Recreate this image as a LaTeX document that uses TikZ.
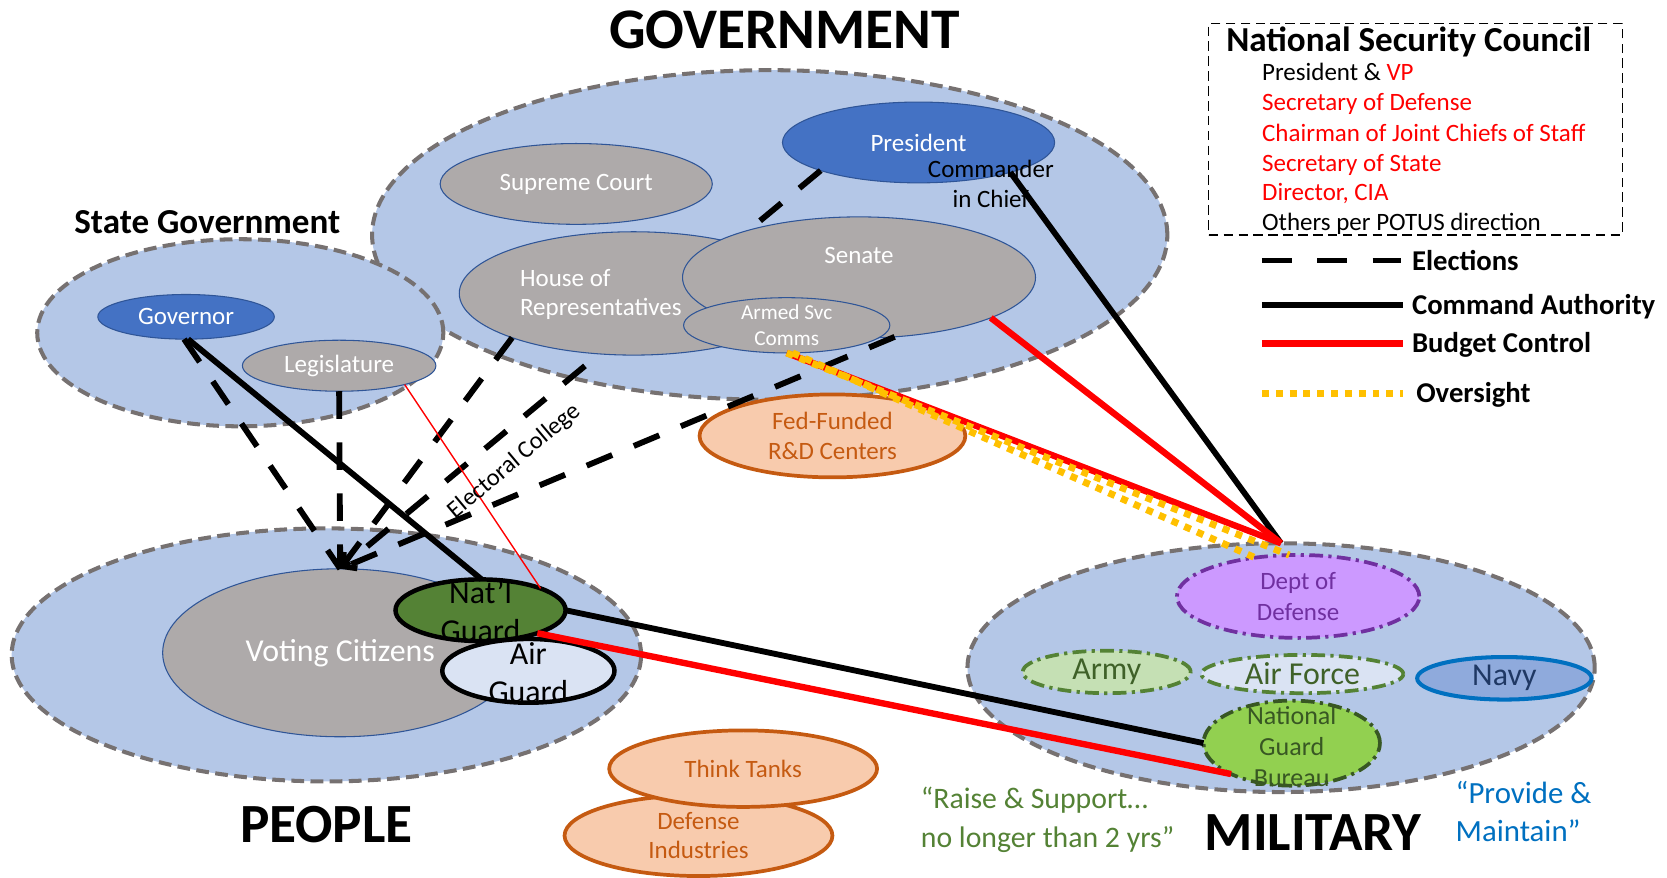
\documentclass[tikz,border=0pt]{standalone}
\usepackage{fontspec}
\setmainfont{Carlito}
\usetikzlibrary{shapes.geometric,arrows.meta}
\definecolor{regfill}{HTML}{B4C7E7}
\definecolor{regline}{HTML}{767171}
\definecolor{grayfill}{HTML}{AEAAAA}
\definecolor{edgeblue}{HTML}{2F5597}
\definecolor{presblue}{HTML}{4472C4}
\definecolor{peach}{HTML}{F8CBAD}
\definecolor{rust}{HTML}{C55A11}
\definecolor{lavender}{HTML}{CC99FF}
\definecolor{purp}{HTML}{7030A0}
\definecolor{mint}{HTML}{C5E0B4}
\definecolor{leaf}{HTML}{548235}
\definecolor{pale}{HTML}{DAE3F3}
\definecolor{navyfill}{HTML}{8FAADC}
\definecolor{navyedge}{HTML}{0070C0}
\definecolor{navytext}{HTML}{1F3864}
\definecolor{lime}{HTML}{92D050}
\definecolor{forest}{HTML}{385723}
\definecolor{amber}{HTML}{FFC000}
\definecolor{redline}{HTML}{FF0000}
\begin{document}
\begin{tikzpicture}[x=1pt,y=-1pt,
  ell/.style={ellipse,inner sep=0pt,outer sep=0pt},
  region/.style={ell,fill=regfill,draw=regline,line width=3.8pt,dash pattern=on 12pt off 6pt},
  branch/.style={ell,fill=grayfill,draw=edgeblue,line width=1pt},
  chief/.style={ell,fill=presblue,draw=edgeblue,line width=1pt},
  partner/.style={ell,fill=peach,draw=rust,line width=3.5pt},
  guard/.style={ell,draw=black,line width=4.2pt},
  service/.style={ell,line width=3.5pt,dash pattern=on 13pt off 5pt on 3pt off 5pt},
  wlab/.style={text=white,align=center,inner sep=0pt},
  olab/.style={text=rust,align=center,inner sep=0pt},
  f22/.style={font=\fontsize{23.5pt}{29pt}\selectfont},
  bigtitle/.style={font=\fontsize{54pt}{60pt}\selectfont\bfseries,inner sep=0pt,anchor=base},
  leglab/.style={font=\fontsize{27pt}{30pt}\selectfont\bfseries,inner sep=0pt,anchor=base west},
  nscitem/.style={font=\fontsize{23.5pt}{26pt}\selectfont,inner sep=0pt,anchor=base west},
  election/.style={line width=5.5pt,dash pattern=on 26pt off 22pt},
  command/.style={line width=5.5pt},
  budget/.style={line width=6pt,draw=redline},
  oversight/.style={line width=6.5pt,draw=amber,dash pattern=on 6.5pt off 6.5pt},
]
\useasboundingbox (0,0) rectangle (1568,825);

% regions
\node[region,minimum width=748pt,minimum height=310pt] (govr) at (724,221) {};
\node[region,minimum width=382pt,minimum height=176pt] (stater) at (226,313) {};
\node[region,minimum width=592pt,minimum height=238pt] (peopler) at (307,616) {};
\node[region,minimum width=590pt,minimum height=234pt] (milr) at (1205,628) {};

% people
\node[branch,minimum width=334pt,minimum height=158pt] (vc) at (320,614) {};
\node[guard,fill=leaf,minimum width=160pt,minimum height=58pt] (ng) at (452,574) {};
\node[guard,fill=pale,minimum width=162pt,minimum height=60pt] (ag) at (497,631) {};

% state
\node[chief,minimum width=166pt,minimum height=42pt] (gov) at (175,298) {};
\node[branch,minimum width=182pt,minimum height=48pt] (leg) at (319,344) {};

% federal government
\node[branch,minimum width=256pt,minimum height=76pt] (court) at (542,173) {};
\node[chief,minimum width=256pt,minimum height=76pt] (pres) at (864,134) {};
\draw[election,-{Straight Barb[length=9pt,width=20pt]}] (pres.196) -- (vc.north);
\node[branch,minimum width=328pt,minimum height=116pt] (house) at (596,276) {};
\node[branch,minimum width=332pt,minimum height=114pt] (senate) at (808,261) {};
\node[branch,minimum width=194pt,minimum height=52pt] (asc) at (740,306) {};

% partners
\node[partner,minimum width=250pt,minimum height=78pt] (ffrdc) at (783,410) {};
\node[partner,minimum width=252pt,minimum height=76pt] (defind) at (657,786) {};
\node[partner,minimum width=252pt,minimum height=72pt] (tanks) at (699,723) {};

% military
\node[service,fill=lavender,draw=purp,minimum width=228pt,minimum height=78pt] (dod) at (1221,561) {};
\node[service,fill=mint,draw=leaf,minimum width=158pt,minimum height=40pt] (army) at (1041,632) {};
\node[service,fill=pale,draw=leaf,minimum width=190pt,minimum height=36pt] (airforce) at (1225,634) {};
\node[ell,fill=navyfill,draw=navyedge,line width=3.8pt,minimum width=164pt,minimum height=40pt] (navy) at (1415,638) {};
\node[service,fill=lime,draw=forest,minimum width=166pt,minimum height=80pt] (ngb) at (1215,699) {};

% NSC box
\node[draw,line width=1.3pt,dash pattern=on 9pt off 5pt,minimum width=389pt,minimum height=199pt,inner sep=0pt,outer sep=0pt] (nsc) at (1331.5,121.5) {};

% elections
\draw[election] (gov.265) -- (vc.north);
\draw[election] (leg.south) -- (vc.north);
\draw[election] (house.200) -- (vc.north);
\draw[election] (senate.301) -- (vc.north);

% command authority
\draw[command] (gov.275) -- (ng.88);
\draw[command] (pres.342) -- (milr.north);
\draw[command] (ng.east) -- (ngb.west);

% budget and oversight
\draw[budget] (senate.343) -- (milr.north);
\draw[budget] (asc.south) -- (milr.north);
\draw[oversight] (asc.270) -- (dod.102);
\draw[oversight] (asc.282) -- (dod.138);
\draw[budget,line width=1.3pt] (leg.344) -- (ng.20);
\draw[budget] (ng.338) -- (ngb.207);

% legend
\coordinate (elA) at (1187,245); \coordinate (elB) at (1318,245);
\coordinate (caA) at (1187,287); \coordinate (caB) at (1320,287);
\coordinate (bcA) at (1187,323); \coordinate (bcB) at (1320,323);
\coordinate (ovA) at (1187,370); \coordinate (ovB) at (1320,370);
\draw[election,dash pattern=on 28pt off 24pt] (elA) -- (elB);
\draw[command] (caA) -- (caB);
\draw[budget] (bcA) -- (bcB);
\draw[oversight] (ovA) -- (ovB);
\node[leglab] (elT) at (1328,254) {Elections};
\node[leglab] (caT) at (1328,296) {Command Authority};
\node[leglab] (bcT) at (1328,332) {Budget Control};
\node[leglab] (ovT) at (1332,379) {Oversight};

% NSC text
\node[font=\fontsize{33pt}{36pt}\selectfont\bfseries,anchor=base,inner sep=0pt] (nscT) at (1325,48) {National Security Council};
\node[nscitem] (n1) at (1187,76) {President \& \textcolor{redline}{VP}};
\node[nscitem,text=redline] (n2) at (1187,104) {Secretary of Defense};
\node[nscitem,text=redline] (n3) at (1187,133) {Chairman of Joint Chiefs of Staff};
\node[nscitem,text=redline] (n4) at (1187,161) {Secretary of State};
\node[nscitem,text=redline] (n5) at (1187,189) {Director, CIA};
\node[nscitem] (n6) at (1187,217) {Others per POTUS direction};

% labels
\node[wlab,f22] (courtT) at (court) {Supreme Court};
\node[wlab,f22] (presT) at (pres) {President};
\node[font=\fontsize{23.5pt}{28pt}\selectfont,align=center,inner sep=0pt] (cicT) at (932,173) {Commander\\in Chief};
\node[wlab,font=\fontsize{23.5pt}{28pt}\selectfont,align=left,anchor=west] (houseT) at (489,277) {House of\\Representatives};
\node[wlab,f22] (senT) at (808,240) {Senate};
\node[wlab,font=\fontsize{20pt}{24pt}\selectfont] (ascT) at (asc) {Armed Svc\\Comms};
\node[wlab,f22] (govT) at (gov) {Governor};
\node[wlab,f22] (legT) at (leg) {Legislature};
\node[wlab,font=\fontsize{30pt}{32pt}\selectfont] (vcT) at (320,614) {Voting Citizens};
\node[font=\fontsize{30pt}{36pt}\selectfont,align=center,inner sep=0pt] (ngT) at (452,575) {Nat’l\\Guard};
\node[font=\fontsize{30pt}{36pt}\selectfont,align=center,inner sep=0pt] (agT) at (497,633) {Air\\Guard};
\node[olab,font=\fontsize{23.5pt}{29pt}\selectfont] (ffT) at (ffrdc) {Fed-Funded\\R\&D Centers};
\node[olab,f22] (ttT) at (tanks) {Think Tanks};
\node[olab,font=\fontsize{23.5pt}{28pt}\selectfont] (diT) at (defind) {Defense\\Industries};
\node[text=purp,align=center,inner sep=0pt,font=\fontsize{23.5pt}{29pt}\selectfont] (dodT) at (dod) {Dept of\\Defense};
\node[text=leaf!75!black,inner sep=0pt,font=\fontsize{30pt}{32pt}\selectfont] (armyT) at (army) {Army};
\node[text=leaf!75!black,inner sep=0pt,font=\fontsize{30pt}{32pt}\selectfont] (afT) at (airforce) {Air Force};
\node[text=navytext,inner sep=0pt,font=\fontsize{30pt}{32pt}\selectfont] (navyT) at (navy) {Navy};
\node[text=forest,align=center,inner sep=0pt,font=\fontsize{24.5pt}{29pt}\selectfont] (ngbT) at (1215,702) {National\\Guard\\Bureau};
\node[rotate=40,inner sep=0pt,font=\fontsize{23pt}{26pt}\selectfont] (ecT) at (484,434) {Electoral College};

% titles
\node[bigtitle] (govTitle) at (738,46) {GOVERNMENT};
\node[font=\fontsize{33pt}{36pt}\selectfont\bfseries,inner sep=0pt,anchor=base] (stateTitle) at (195,220) {State Government};
\node[bigtitle,font=\fontsize{52pt}{60pt}\selectfont\bfseries] (peopleTitle) at (307,792) {PEOPLE};
\node[bigtitle,font=\fontsize{52pt}{60pt}\selectfont\bfseries] (milTitle) at (1235,800) {MILITARY};
\node[text=leaf,align=left,anchor=west,inner sep=0pt,font=\fontsize{28pt}{37pt}\selectfont] (raiseT) at (866,771) {“Raise \& Support…\\no longer than 2 yrs”};
\node[text=navyedge,align=left,anchor=west,inner sep=0pt,font=\fontsize{29pt}{36pt}\selectfont] (provT) at (1369,763) {“Provide \&\\Maintain”};
\end{tikzpicture}
\end{document}
